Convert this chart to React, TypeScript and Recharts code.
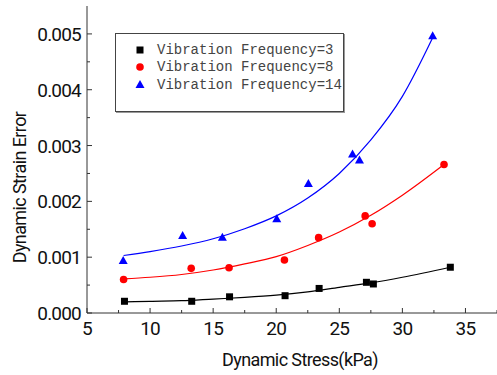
import React from 'react';
import { ComposedChart, Scatter, Line, XAxis, YAxis } from 'recharts';

// measured points, dynamic stress (kPa) vs dynamic strain error
const stressF3 = [7.97, 13.3, 16.3, 20.7, 23.4, 27.15, 27.7, 33.8];
const strainF3 = [0.00021, 0.00021, 0.00029, 0.00031, 0.00044, 0.00055, 0.00052, 0.00082];
const stressF8 = [7.9, 13.26, 16.26, 20.65, 23.36, 27.05, 27.6, 33.3];
const strainF8 = [0.0006, 0.0008, 0.00081, 0.00095, 0.00135, 0.00174, 0.0016, 0.00266];
const stressF14 = [7.87, 12.58, 15.73, 20.04, 22.55, 26.05, 26.6, 32.4];
const strainF14 = [0.00093, 0.00138, 0.00135, 0.00168, 0.00231, 0.00284, 0.00273, 0.00496];

// fitted curves
const fitX3 = [8, 10, 12.5, 15, 17.5, 20, 22.5, 25, 27.5, 30, 33.8];
const fitY3 = [0.0002, 0.00021, 0.00022, 0.00025, 0.00028, 0.00032, 0.00038, 0.00046, 0.00054, 0.00064, 0.00082];
const fitX8 = [7.9, 10, 12.5, 15, 17.5, 20, 22.5, 25, 27.5, 30, 33.3];
const fitY8 = [0.00061, 0.00064, 0.00069, 0.00077, 0.00088, 0.00101, 0.00121, 0.00145, 0.00175, 0.00211, 0.00266];
const fitX14 = [7.9, 10, 12.5, 15, 17.5, 20, 22.5, 25, 27.5, 30, 32.4];
const fitY14 = [0.00103, 0.0011, 0.0012, 0.00133, 0.00151, 0.00174, 0.00206, 0.0025, 0.0031, 0.00388, 0.00493];

const xTicks = [5, 7.5, 10, 12.5, 15, 17.5, 20, 22.5, 25, 27.5, 30, 32.5, 35, 37.5];
const yTicks = [0, 0.0005, 0.001, 0.0015, 0.002, 0.0025, 0.003, 0.0035, 0.004, 0.0045, 0.005];

const names = ['Vibration Frequency=3', 'Vibration Frequency=8', 'Vibration Frequency=14'];
const colors = ['#000000', '#ff0000', '#0000ff'];

const zip = (xs: number[], ys: number[]) => xs.map((x, i) => ({ x, y: ys[i] }));

const tickFont = 'Roboto, sans-serif';
const axisColor = '#333';

const Square = (p: any) => <rect x={p.cx - 3.5} y={p.cy - 3.5} width={7} height={7} fill="#000" />;
const Dot = (p: any) => <circle cx={p.cx} cy={p.cy} r={3.8} fill="#ff0000" />;
const Tri = (p: any) => (
  <polygon points={`${p.cx},${p.cy - 5} ${p.cx - 4.5},${p.cy + 3} ${p.cx + 4.5},${p.cy + 3}`} fill="#0000ff" />
);
const shapes = [Square, Dot, Tri];

const XTick = (props: any) => {
  const { x, y, payload } = props;
  const major = payload.value % 5 === 0;
  return (
    <g>
      <line x1={x} x2={x} y1={y} y2={y - (major ? 5 : 3)} stroke={axisColor} />
      {major && (
        <text x={x} y={y + 22} textAnchor="middle" fontSize={19} fontFamily={tickFont} fill="#111" letterSpacing={-0.8}>
          {payload.value}
        </text>
      )}
    </g>
  );
};

const YTick = (props: any) => {
  const { x, y, payload } = props;
  const v = payload.value * 1000;
  const major = Math.abs(v - Math.round(v)) < 1e-6;
  return (
    <g>
      <line x1={x} x2={x + (major ? 5 : 3)} y1={y} y2={y} stroke={axisColor} />
      {major && (
        <text x={x - 6} y={y + 7} textAnchor="end" fontSize={19} fontFamily={tickFont} fill="#111" letterSpacing={-0.8}>
          {payload.value.toFixed(3)}
        </text>
      )}
    </g>
  );
};

const LegendBox = () => (
  <div
    style={{
      position: 'absolute',
      left: 115,
      top: 33,
      width: 229,
      height: 79,
      border: '1px solid #444',
      boxShadow: '1px 1px 0 #999',
      background: '#fff',
      paddingTop: 7,
      boxSizing: 'border-box',
    }}
  >
    {names.map((n, i) => (
      <div key={n} style={{ display: 'flex', alignItems: 'center', height: 17.5 }}>
        <svg width={41} height={14}>
          {shapes[i]({ cx: 24, cy: 7 })}
        </svg>
        <span style={{ fontFamily: '"Liberation Mono", monospace', fontSize: 14, color: '#444', whiteSpace: 'pre' }}>
          {n}
        </span>
      </div>
    ))}
  </div>
);

export default function App() {
  const pts = [zip(stressF3, strainF3), zip(stressF8, strainF8), zip(stressF14, strainF14)];
  const fits = [zip(fitX3, fitY3), zip(fitX8, fitY8), zip(fitX14, fitY14)];
  return (
    <div style={{ position: 'absolute', left: 0, top: 0, width: 497, height: 375, background: '#fff' }}>
      <ComposedChart width={497} height={375} margin={{ top: 6, right: 0, bottom: 0, left: 0 }}>
        <XAxis
          type="number"
          dataKey="x"
          domain={[5, 37.5]}
          ticks={xTicks}
          interval={0}
          tickLine={false}
          tickSize={0}
          tickMargin={0}
          tick={<XTick />}
          height={62}
          stroke={axisColor}
          allowDuplicatedCategory={false}
          label={{
            content: (p: any) => (
              <text
                x={p.viewBox.x + p.viewBox.width / 2 + 8}
                y={p.viewBox.y + 53}
                textAnchor="middle"
                fontSize={18}
                fontFamily={tickFont}
                fill="#111"
                letterSpacing={-0.6}
              >
                Dynamic Stress(kPa)
              </text>
            ),
          }}
        />
        <YAxis
          type="number"
          dataKey="y"
          domain={[0, 0.0055]}
          ticks={yTicks}
          interval={0}
          tickLine={false}
          tickSize={0}
          tickMargin={0}
          tick={<YTick />}
          width={87}
          stroke={axisColor}
          label={{
            content: (p: any) => {
              const cx = 19;
              const cy = p.viewBox.y + p.viewBox.height / 2 + 28;
              return (
                <text
                  x={cx}
                  y={cy}
                  transform={`rotate(-90 ${cx} ${cy})`}
                  textAnchor="middle"
                  dominantBaseline="central"
                  fontSize={18}
                  fontFamily={tickFont}
                  fill="#111"
                  letterSpacing={-0.6}
                >
                  Dynamic Strain Error
                </text>
              );
            },
          }}
        />
        {fits.map((d, i) => (
          <Line
            key={'fit' + i}
            data={d}
            dataKey="y"
            type="monotone"
            stroke={colors[i]}
            strokeWidth={1.2}
            dot={false}
            activeDot={false}
            legendType="none"
            isAnimationActive={false}
          />
        ))}
        {pts.map((d, i) => (
          <Scatter
            key={'pts' + i}
            name={names[i]}
            data={d}
            dataKey="y"
            fill={colors[i]}
            shape={shapes[i]}
            isAnimationActive={false}
          />
        ))}
      </ComposedChart>
      <LegendBox />
    </div>
  );
}
